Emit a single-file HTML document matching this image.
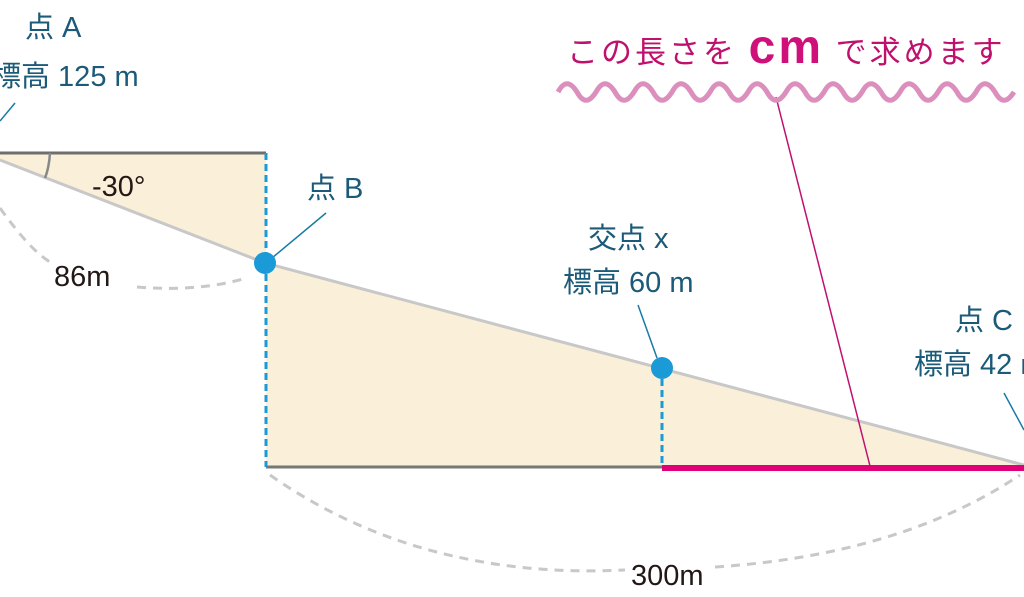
<!DOCTYPE html>
<html><head><meta charset="utf-8"><style>
html,body{margin:0;padding:0;background:#fff;width:1024px;height:597px;overflow:hidden}
svg{display:block}
.t{font-family:"Liberation Sans","Noto Sans CJK JP",sans-serif;fill:#1b5a78;font-size:29px}
.k{font-family:"Liberation Sans","Noto Sans CJK JP",sans-serif;fill:#231815;font-size:29px}
</style></head><body>
<svg width="1024" height="597" viewBox="0 0 1024 597" xmlns="http://www.w3.org/2000/svg">
<polygon points="0,153 266,153 266,263 0,160" fill="#faefd8"/>
<polygon points="266,263 1024,466 266,467" fill="#faefd8"/>
<line x1="0" y1="153" x2="266" y2="153" stroke="#6e6e6e" stroke-width="3"/>
<polyline points="0,160 265,263 1024,465" fill="none" stroke="#c8c8c8" stroke-width="3"/>
<path d="M50,153 Q49,168 45,178" fill="none" stroke="#888" stroke-width="2.5"/>
<line x1="266" y1="467" x2="662" y2="467" stroke="#777" stroke-width="3"/>
<line x1="662" y1="468" x2="1024" y2="468" stroke="#e0007a" stroke-width="6"/>
<line x1="266" y1="153" x2="266" y2="467" stroke="#1a9ad6" stroke-width="3" stroke-dasharray="7,4"/>
<line x1="662" y1="368" x2="662" y2="467" stroke="#1a9ad6" stroke-width="3" stroke-dasharray="7,4"/>
<path d="M0,208 Q30,250 50,262" fill="none" stroke="#c8c8c8" stroke-width="3" stroke-dasharray="9,7"/>
<path d="M137,287 Q200,292 246,278" fill="none" stroke="#c8c8c8" stroke-width="3" stroke-dasharray="9,7"/>
<path d="M270,475 Q420,580 625,570" fill="none" stroke="#c8c8c8" stroke-width="3" stroke-dasharray="9,7"/>
<path d="M715,567 Q900,555 1020,475" fill="none" stroke="#c8c8c8" stroke-width="3" stroke-dasharray="9,7"/>
<line x1="15" y1="103" x2="0" y2="121" stroke="#1a7aa6" stroke-width="1.5"/>
<line x1="326" y1="213" x2="272" y2="258" stroke="#1a7aa6" stroke-width="1.5"/>
<line x1="638" y1="305" x2="657" y2="358" stroke="#1a7aa6" stroke-width="1.5"/>
<line x1="1004" y1="393" x2="1024" y2="430" stroke="#1a7aa6" stroke-width="1.5"/>
<circle cx="265" cy="263" r="11" fill="#1a9ad6"/>
<circle cx="662" cy="368" r="11" fill="#1a9ad6"/>
<line x1="776" y1="97" x2="870" y2="466" stroke="#c01070" stroke-width="1.5"/>
<path d="M558,92 c6,-11 12,-11 19,0 c6,11 12,11 19,0 c6,-11 12,-11 19,0 c6,11 12,11 19,0 c6,-11 12,-11 19,0 c6,11 12,11 19,0 c6,-11 12,-11 19,0 c6,11 12,11 19,0 c6,-11 12,-11 19,0 c6,11 12,11 19,0 c6,-11 12,-11 19,0 c6,11 12,11 19,0 c6,-11 12,-11 19,0 c6,11 12,11 19,0 c6,-11 12,-11 19,0 c6,11 12,11 19,0 c6,-11 12,-11 19,0 c6,11 12,11 19,0 c6,-11 12,-11 19,0 c6,11 12,11 19,0 c6,-11 12,-11 19,0 c6,11 12,11 19,0 c6,-11 12,-11 19,0 c6,11 12,11 19,0" fill="none" stroke="#dc8fbd" stroke-width="5"/>
<text x="567" y="63" font-family="Liberation Sans,Noto Sans CJK JP,sans-serif" font-size="31" letter-spacing="3" fill="#c0106e">この長さを <tspan font-size="48" font-weight="bold" fill="#d0107a">cm</tspan> で求めます</text>
<text class="t" x="25" y="37">点 A</text>
<text class="t" x="-8" y="86">標高 125 m</text>
<text class="k" x="92" y="196">-30°</text>
<text class="t" x="307" y="198">点 B</text>
<text class="k" x="54" y="286">86m</text>
<text class="t" x="588" y="248">交点 x</text>
<text class="t" x="563" y="292">標高 60 m</text>
<text class="t" x="955" y="330">点 C</text>
<text class="t" x="914" y="374">標高 42 m</text>
<text class="k" x="631" y="585">300m</text>
</svg>
</body></html>
